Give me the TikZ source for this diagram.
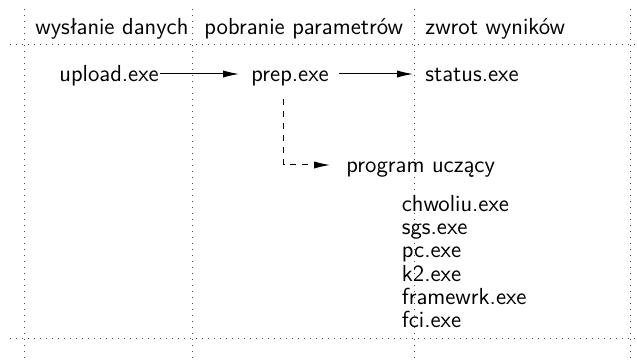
\documentclass[tikz,border=0pt]{standalone}
\usepackage{fontspec}
\usetikzlibrary{arrows.meta,positioning}

\tikzset{
  lane/.style={draw=black!70, line width=.5pt, dash pattern=on .5pt off 2.5pt},
  lbl/.style={font=\sffamily\fontsize{11.6}{14}\selectfont, inner sep=0pt,
    anchor=base west, text height=8pt, text depth=0pt},
  flow/.style={-{Latex[length=8pt,width=3.6pt]}, line width=.5pt},
}

\begin{document}
\begin{tikzpicture}[x=.5pt,y=-.5pt]
  \useasboundingbox (0,0) rectangle (637,362);

  % swimlanes
  \foreach \x in {24.3,192.3,414.3,630.7}
    \draw[lane] (\x,9) -- (\x,362);
  \foreach \y in {44.3,339}
    \draw[lane] (10,\y) -- (635,\y);

  \node[lbl] (send)  at (35,35)  {wysłanie danych};
  \node[lbl] (fetch) at (204,35) {pobranie parametrów};
  \node[lbl] (ret)   at (425,35) {zwrot wyników};

  \node[lbl] (upload) at (59,82)  {upload.exe};
  \node[lbl] (prep)   at (251,82) {prep.exe};
  \node[lbl] (status) at (425,82) {status.exe};
  \node[lbl] (prog)   at (346,173) {program uczący};

  \foreach \alg [count=\i from 0] in {chwoliu,sgs,pc,k2,framewrk,fci}
    \node[lbl] (\alg) at (401.5,211.5+23.2*\i) {\alg.exe};

  \draw[flow, shorten <=.5pt, shorten >=6pt] (upload) -- (prep);
  \draw[flow, shorten <=5pt, shorten >=6pt] (prep) -- (status);
  \draw[flow, dashed, shorten <=8.5pt, shorten >=8pt]
    ([xshift=-3.2pt]prep.south) |- (prog);
\end{tikzpicture}
\end{document}
